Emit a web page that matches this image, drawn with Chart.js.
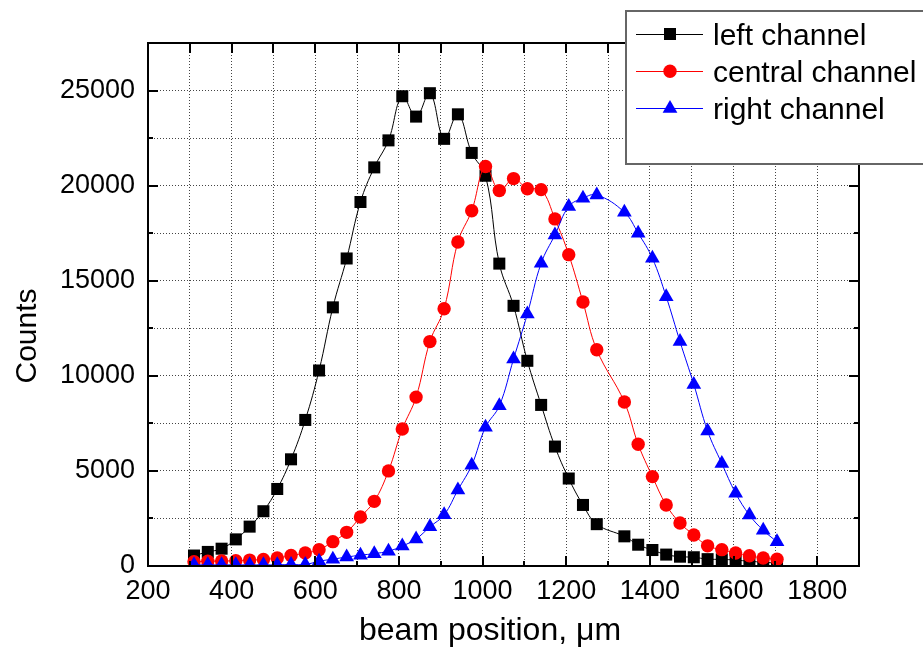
<!DOCTYPE html>
<html>
<head>
<meta charset="utf-8">
<script src="https://cdn.jsdelivr.net/npm/chart.js@4/dist/chart.umd.min.js"></script>
<style>
  html, body { margin: 0; padding: 0; background: #fff; }
  canvas { display: block; }
</style>
</head>
<body>
<canvas id="c" width="923" height="650"></canvas>
<script>
// Beam positions (µm) of the scan
const positions = [310, 343, 376, 410, 443, 476, 509, 542, 576, 609, 642, 675, 708, 741, 775,
  808, 841, 874, 908, 941, 974, 1007, 1040, 1074, 1107, 1140, 1173, 1206, 1240, 1273,
  1339, 1372, 1406, 1439, 1472, 1505, 1538, 1572, 1605, 1638, 1671, 1704];

// Counts per channel
const leftChannel = [550, 740, 910, 1400, 2070, 2880, 4050, 5610, 7680, 10280, 13600, 16170,
  19140, 20960, 22380, 24700, 23630, 24860, 22460, 23750, 21720, 20520, 15900, 13680, 10790,
  8470, 6280, 4600, 3210, 2200, 1560, 1120, 840, 600, 490, 460, 360, 350, 310, 250, 200, 150];
const centralChannel = [230, 250, 260, 280, 310, 340, 420, 550, 680, 860, 1280, 1770, 2580,
  3400, 5000, 7200, 8880, 11800, 13530, 17040, 18680, 21010, 19740, 20370, 19840, 19790,
  18250, 16370, 13880, 11370, 8620, 6400, 4700, 3210, 2260, 1630, 1060, 860, 680, 540, 420, 360];
const rightChannel = [60, 60, 60, 60, 60, 60, 60, 80, 80, 250, 360, 470, 570, 650, 780, 1050,
  1420, 2060, 2690, 4000, 5300, 7300, 8420, 10880, 13250, 15920, 17410, 18900, 19340, 19510,
  18600, 17500, 16180, 14160, 11800, 9550, 7100, 5390, 3830, 2680, 1880, 1270];

const seriesNames = ['left channel', 'central channel', 'right channel'];

// Labelled tick values
const xTickLabels = [200, 400, 600, 800, 1000, 1200, 1400, 1600, 1800];
const yTickLabels = [0, 5000, 10000, 15000, 20000, 25000];

const FONT = "'Liberation Sans', Arial, Helvetica, sans-serif";

const toPoints = arr => positions.map((x, i) => ({ x, y: arr[i] }));

// Inward tick marks and the closed frame around the plot
const framePlugin = {
  id: 'frame',
  afterDatasetsDraw(chart) {
    const { ctx, chartArea: a, scales: { x, y } } = chart;
    ctx.save();
    ctx.strokeStyle = '#000';
    ctx.lineWidth = 2;
    ctx.beginPath();
    for (let v = 200; v <= 1900; v += 100) {
      const px = Math.round(x.getPixelForValue(v));
      const len = v % 200 === 0 ? 10 : 5;
      ctx.moveTo(px, a.bottom); ctx.lineTo(px, a.bottom - len);
      ctx.moveTo(px, a.top); ctx.lineTo(px, a.top + 10);
    }
    for (let v = 0; v <= 27500; v += 2500) {
      const py = Math.round(y.getPixelForValue(v));
      const len = v % 5000 === 0 ? 10 : 5;
      ctx.moveTo(a.left, py); ctx.lineTo(a.left + len, py);
      ctx.moveTo(a.right, py); ctx.lineTo(a.right - len, py);
    }
    ctx.stroke();
    ctx.strokeRect(a.left, a.top, a.right - a.left, a.bottom - a.top);

    // axis titles
    ctx.fillStyle = '#000';
    ctx.font = '32px ' + FONT;
    ctx.textAlign = 'center';
    ctx.textBaseline = 'alphabetic';
    ctx.fillText('beam position, \u03bcm', 490, 640);
    ctx.save();
    ctx.translate(36, 336);
    ctx.rotate(-Math.PI / 2);
    ctx.font = '30px ' + FONT;
    ctx.fillText('Counts', 0, 0);
    ctx.restore();
    ctx.restore();
  }
};

// Boxed legend in the upper right corner
const boxLegend = {
  id: 'boxLegend',
  afterDraw(chart) {
    const ctx = chart.ctx;
    ctx.save();
    ctx.fillStyle = '#fff';
    ctx.fillRect(626, 11, 330, 153);
    ctx.strokeStyle = '#666';
    ctx.lineWidth = 2;
    ctx.strokeRect(626, 11, 330, 153);
    chart.data.datasets.forEach((ds, i) => {
      const cy = 34 + i * 37.2;
      ctx.strokeStyle = ds.borderColor;
      ctx.lineWidth = 1;
      ctx.beginPath();
      ctx.moveTo(636, Math.round(cy) + 0.5);
      ctx.lineTo(703, Math.round(cy) + 0.5);
      ctx.stroke();
      ctx.fillStyle = ds.backgroundColor;
      Chart.helpers.drawPoint(ctx, {
        pointStyle: ds.pointStyle, radius: ds.pointRadius, rotation: 0, borderWidth: 0
      }, 670, cy);
      ctx.fillStyle = '#000';
      ctx.font = '30px ' + FONT;
      ctx.textAlign = 'left';
      ctx.textBaseline = 'alphabetic';
      ctx.fillText(ds.label, 713, cy + 11);
    });
    ctx.restore();
  }
};

const series = [
  { data: leftChannel, color: '#000000', style: 'rect', radius: 8.5, order: 3 },
  { data: centralChannel, color: '#ff0000', style: 'circle', radius: 6.7, order: 2 },
  { data: rightChannel, color: '#0000ff', style: 'triangle', radius: 8.5, order: 1 }
];

new Chart(document.getElementById('c'), {
  type: 'line',
  data: {
    datasets: series.map((s, i) => ({
      label: seriesNames[i],
      data: toPoints(s.data),
      borderColor: s.color,
      backgroundColor: s.color,
      pointBackgroundColor: s.color,
      pointBorderColor: s.color,
      pointBorderWidth: 0,
      pointStyle: s.style,
      pointRadius: s.radius,
      pointHoverRadius: s.radius,
      borderWidth: 1,
      tension: 0.4,
      fill: false,
      order: s.order
    }))
  },
  options: {
    responsive: false,
    animation: false,
    devicePixelRatio: 1,
    layout: { padding: { top: 43, right: 64, left: 0, bottom: 0 } },
    plugins: { legend: { display: false }, tooltip: { enabled: false } },
    scales: {
      x: {
        type: 'linear',
        min: 200,
        max: 1900,
        ticks: {
          stepSize: 100,
          autoSkip: false,
          maxRotation: 0,
          padding: 9,
          color: '#000',
          font: { family: FONT, size: 27 },
          callback: v => xTickLabels.includes(v) ? String(v) : ''
        },
        grid: { color: '#444', lineWidth: 1, drawTicks: false },
        border: { display: false, dash: [1, 2] },
        afterFit: s => { s.height = 84; }
      },
      y: {
        type: 'linear',
        min: 0,
        max: 27500,
        ticks: {
          stepSize: 2500,
          autoSkip: false,
          padding: 13,
          color: '#000',
          font: { family: FONT, size: 27 },
          callback: v => yTickLabels.includes(v) ? String(v) : ''
        },
        grid: { color: '#444', lineWidth: 1, drawTicks: false },
        border: { display: false, dash: [1, 2] },
        afterFit: s => { s.width = 148; }
      }
    }
  },
  plugins: [framePlugin, boxLegend]
});
</script>
</body>
</html>
